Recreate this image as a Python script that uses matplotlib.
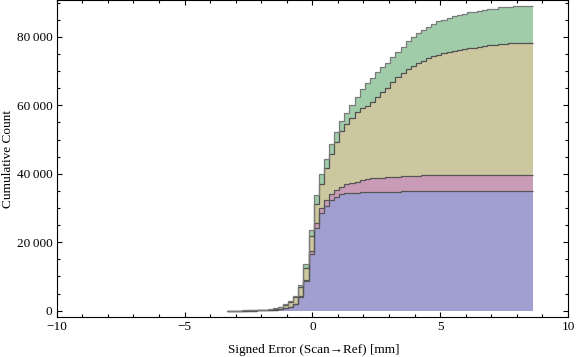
import numpy as np
import matplotlib
matplotlib.use("Agg")
import matplotlib.pyplot as plt
from matplotlib.ticker import MultipleLocator, FuncFormatter

plt.rcParams['font.family'] = ['Liberation Serif', 'DejaVu Serif']

# Cumulative histogram, 0.2 mm bins starting at -3.35 mm
bin_start = -3.35
bin_width = 0.2

blue = [5, 10, 15, 20, 30, 40, 60, 100, 180, 300,
        450, 700, 1100, 1850, 4100, 8560, 16560, 24150, 28440, 30600,
        32320, 33290, 33990, 34280, 34460, 34500, 34660, 34680, 34750, 34750,
        34750, 34780, 34800, 34800, 34850, 34870, 34880, 34900, 34900, 34900,
        34920, 34920, 34930, 34930, 34940, 34940, 34950, 34950, 34950, 34960,
        34960, 34960, 34970, 34970, 34970, 34980, 34980, 34980, 34990, 35000]

pink = [0, 0, 0, 0, 0, 0, 0, 10, 10, 20,
        30, 40, 70, 100, 200, 490, 760, 1350, 1650, 1690,
        1720, 1950, 2220, 2630, 2740, 3170, 3500, 3780, 3900, 3910,
        3950, 4150, 4160, 4170, 4450, 4460, 4480, 4500, 4700, 4700,
        4700, 4700, 4700, 4700, 4700, 4700, 4700, 4700, 4700, 4700,
        4700, 4700, 4700, 4700, 4700, 4700, 4700, 4700, 4700, 4700]

olive = [5, 10, 15, 25, 30, 50, 90, 140, 160, 230,
         520, 860, 1230, 2050, 2600, 3420, 4480, 5800, 7030, 9260,
         11700, 14110, 16200, 17490, 19200, 20330, 20940, 21440, 22190, 23830,
         25070, 26170, 27740, 29190, 30170, 31250, 32120, 33020, 33380, 34080,
         34750, 35040, 35530, 35910, 36280, 36460, 36700, 36950, 37150, 37320,
         37610, 37840, 37930, 38230, 38330, 38470, 38520, 38540, 38560, 38570]

green = [5, 10, 15, 15, 30, 50, 70, 100, 130, 150,
         170, 340, 360, 380, 650, 1170, 1800, 2500, 2700, 2800,
         2850, 2870, 2900, 3420, 3660, 4310, 5550, 6500, 7100, 7150,
         7300, 7330, 7350, 7400, 7600, 8120, 8550, 8560, 9150, 9230,
         9350, 9840, 9850, 10060, 10140, 10400, 10450, 10550, 10560, 10620,
         10630, 10640, 10660, 10670, 10680, 10690, 10700, 10730, 10740, 10750]

x_ticks = [-10, -5, 0, 5, 10]
y_ticks = [0, 20000, 40000, 60000, 80000]

layers = [blue, pink, olive, green]
fill_colors = ['#A09FCF', '#C99BB6', '#CDC7A0', '#A0CCAA']
line_colors = ['#555555', '#555555', '#505050', '#7a7a7a']

n = len(blue)
edges = bin_start + bin_width * np.arange(n + 1)

fig = plt.figure(figsize=(5.76, 3.57), dpi=100)
ax = fig.add_axes([0.0984, 0.1129, 0.8877, 0.8857])

base = np.zeros(n)
tops = []
for vals, fc in zip(layers, fill_colors):
    top = base + np.asarray(vals, dtype=float)
    ax.stairs(top, edges, baseline=base, fill=True, facecolor=fc,
              edgecolor='none', linewidth=0)
    tops.append(top)
    base = top

for top, lc in zip(tops, line_colors):
    ax.stairs(top, edges, baseline=None, color=lc, linewidth=0.9)

ax.set_xlim(-10, 10)
ax.set_ylim(-1750, 90600)
ax.set_xticks(x_ticks)
ax.set_yticks(y_ticks)
ax.xaxis.set_minor_locator(MultipleLocator(1))
ax.yaxis.set_minor_locator(MultipleLocator(5000))
ax.yaxis.set_major_formatter(FuncFormatter(lambda v, p: f"{int(v):,}".replace(",", "\u2009")))

ax.tick_params(which='both', direction='in', top=True, right=True,
               labelsize=9.5, width=0.8, color='black')
ax.tick_params(which='major', length=3.6, pad=3)
ax.tick_params(which='minor', length=2.0)
for s in ax.spines.values():
    s.set_linewidth(0.8)

ax.set_xlabel("Signed Error (Scan\u2192Ref) [mm]", fontsize=9.5)
ax.set_ylabel("Cumulative Count", fontsize=9.5)
ax.xaxis.set_label_coords(0.503, -0.085)
ax.yaxis.set_label_coords(-0.083, 0.5)

fig.savefig("out.png", dpi=100)
